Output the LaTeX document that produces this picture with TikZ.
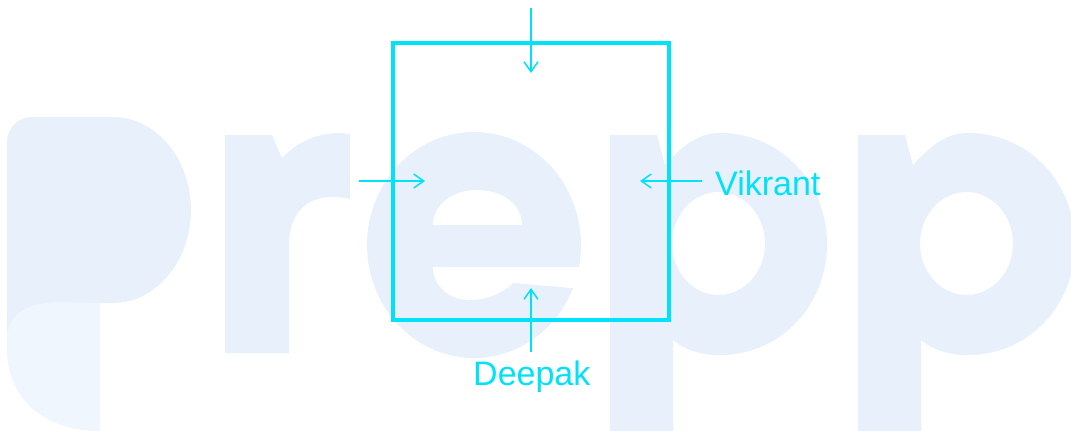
\documentclass[tikz,border=0pt]{standalone}
\usepackage{fontspec}
\setmainfont{Liberation Sans}
\usetikzlibrary{arrows.meta}
\definecolor{wmain}{RGB}{232,240,251}
\definecolor{wlight}{RGB}{240,246,253}
\definecolor{cy}{RGB}{0,226,250}
\tikzset{
  wm/.style={fill=wmain, draw=none},
  wml/.style={fill=wlight, draw=none},
  boxline/.style={draw=cy, line width=3.3pt},
  push/.style={draw=cy, line width=2.5pt, -{Straight Barb[length=10pt,width=14pt,line width=1.5pt]}},
  lbl/.style={text=cy, font=\fontsize{34}{40}\selectfont, inner sep=0pt}
}
\begin{document}
\begin{tikzpicture}[x=1pt,y=-1pt]
\useasboundingbox (0,0) rectangle (1071,431);
% watermark "Prepp"
\fill[wm] (7,340) -- (7,142) .. controls (7,128) and (18,117) .. (32,117) -- (113,117)
  .. controls (156,117) and (191,159) .. (191,210) .. controls (191,261) and (156,303) .. (113,303)
  -- (60,303) -- cycle;
\fill[wml] (100,303) -- (100,431) .. controls (40,431) and (7,395) .. (7,350) -- (7,335)
  .. controls (10,312) and (30,302) .. (60,302) -- cycle;
\fill[wm] (225,135) -- (272,135) -- (282,158) .. controls (298,141) and (318,133) .. (340,133)
  -- (350,134) -- (350,199) .. controls (345,198) and (340,197) .. (332,197)
  .. controls (305,197) and (289,215) .. (289,245) -- (289,353) -- (225,353) -- cycle;
\fill[wm] (474,245) ellipse [x radius=107, y radius=113];
\fill[white] (433,225) .. controls (433,205) and (452,190) .. (477,190)
  .. controls (503,190) and (522,205) .. (522,225) -- cycle;
\fill[white] (433,267) -- (590,267) -- (590,289) -- (573,288) -- (513,283)
  .. controls (500,295) and (485,300) .. (470,300) .. controls (448,300) and (433,285) .. (433,267) -- cycle;
\foreach \dx in {0,248}{
  \begin{scope}[shift={(\dx,0)}]
  \fill[wm, even odd rule] (610,135) -- (657,135) -- (665,165) .. controls (685,143) and (700,133) .. (720,133)
    .. controls (781,133) and (827,183) .. (827,244) .. controls (827,305) and (781,355) .. (720,355)
    .. controls (700,355) and (685,350) .. (673,340) -- (673,431) -- (610,431) -- cycle
    (718.5,243.5) ellipse [x radius=46.5, y radius=51.5];
  \end{scope}
}
% diagram
\node[boxline, minimum width=276pt, minimum height=277pt, inner sep=0pt] (sq) at (531,181.5) {};
\coordinate (ts) at (531,8);
\coordinate (te) at (531,73);
\coordinate (ls) at (359,181);
\coordinate (le) at (425,181);
\coordinate (rs) at (702,181);
\coordinate (re) at (640,181);
\coordinate (bs) at (531,352);
\coordinate (be) at (531,288);
\draw[push] (ts) -- (te);
\draw[push] (ls) -- (le);
\draw[push] (rs) -- (re);
\draw[push] (bs) -- (be);
\node[lbl, anchor=base west] (vik) at (715,195) {Vikrant};
\node[lbl, anchor=base west] (dee) at (473,385) {Deepak};
\end{tikzpicture}
\end{document}
